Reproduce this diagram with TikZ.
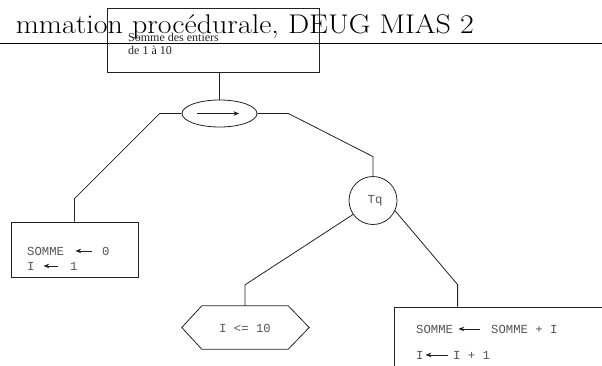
\documentclass[tikz,border=0pt]{standalone}
\usepackage{fontspec}
\usetikzlibrary{arrows.meta,shapes.geometric}
\newfontfamily\codefont{Liberation Mono}
\newfontfamily\notefont{Liberation Serif}
\definecolor{ink}{HTML}{222222}
\definecolor{codegrey}{HTML}{555555}
\tikzset{
  box/.style={draw=ink, line width=0.8pt, inner sep=0pt},
  wire/.style={draw=ink, line width=0.8pt},
  code/.style={inner sep=0pt, text=codegrey, font=\codefont\fontsize{12.3}{14}\selectfont},
  note/.style={inner sep=0pt, anchor=base west, text=ink, font=\notefont\fontsize{12}{14}\selectfont},
  asgn/.style={draw=ink, line width=0.8pt, -{Stealth[length=6pt,width=4.5pt]}},
}
\begin{document}
\begin{tikzpicture}[x=1pt,y=-1pt]
\useasboundingbox (0,0) rectangle (602,365);
\clip (0,0) rectangle (602,365);

% running head
\node[inner sep=0pt, anchor=base east, font=\fontsize{27}{32}\selectfont] (head) at (474,33)
  {\scalebox{1.11}[1]{mmation procédurale, DEUG MIAS 2}};
\draw[line width=1.3pt] (0,43.5) -- (602,43.5);

% goal box
\node[box, minimum width=212, minimum height=64] (goal) at (213,40) {};
\node[note] (goal1) at (128,41) {Somme des entiers};
\node[note] (goal2) at (128,54) {de 1 à 10};

% sequence operator
\node[box, ellipse, minimum width=75, minimum height=27] (seq) at (219.5,113.5) {};
\draw[asgn] ([xshift=15pt]seq.west) -- ([xshift=-18pt]seq.east);

% initialisation box
\node[box, minimum width=127, minimum height=55] (init) at (74.5,249.5) {};
\node[code, anchor=base west] (s0) at (27,255) {SOMME};
\node[code, anchor=base west] (z0) at (102,255) {0};
\node[code, anchor=base west] (i0) at (27,270) {I};
\node[code, anchor=base west] (o0) at (70,270) {1};
\draw[asgn, shorten <=10pt, shorten >=11pt] (z0.west) -- (s0.east);
\draw[asgn, shorten <=12pt, shorten >=8.6pt] (o0.west) -- (i0.east);

% loop node
\node[box, circle, minimum size=48] (tq) at (373,200.5) {};
\node[code] (tqlbl) at (375,201) {Tq};

% loop condition
\node[minimum width=86, minimum height=43, inner sep=0pt] (cond) at (245,327.5) {};
\draw[box] (cond.north west) -- (cond.north east) -- ([xshift=21pt]cond.east)
  -- (cond.south east) -- (cond.south west) -- ([xshift=-20pt]cond.west) -- cycle;
\node[code] (condlbl) at (245,328) {I <= 10};

% loop body
\node[box, minimum width=260, minimum height=80] (body) at (524,347) {};
\coordinate (bodytop) at ([xshift=64pt]body.north west);
\node[code, anchor=base west] (s1) at (416,333) {SOMME};
\node[code, anchor=base west] (e1) at (491,333) {SOMME + I};
\node[code, anchor=base west] (i1) at (416,359) {I};
\node[code, anchor=base west] (e2) at (453,359) {I + 1};
\draw[asgn, shorten <=11pt, shorten >=5pt] (e1.west) -- (s1.east);
\draw[asgn, shorten <=5pt, shorten >=1.6pt] (e2.west) -- (i1.east);

% tree connectors
\draw[wire] (goal.south -| seq.north) -- (seq.north);
\draw[wire] (seq.west) -- ++(-22,0) -- ([yshift=23pt]init.north) -- (init.north);
\draw[wire] (seq.east) -- ++(31,0) -- ([yshift=19.5pt]tq.north) -- (tq.north);
\draw[wire] (tq.215) -- ([yshift=21pt]cond.north) -- (cond.north);
\draw[wire] (tq.335) -- ([yshift=22pt]bodytop) -- (bodytop);
\end{tikzpicture}
\end{document}
